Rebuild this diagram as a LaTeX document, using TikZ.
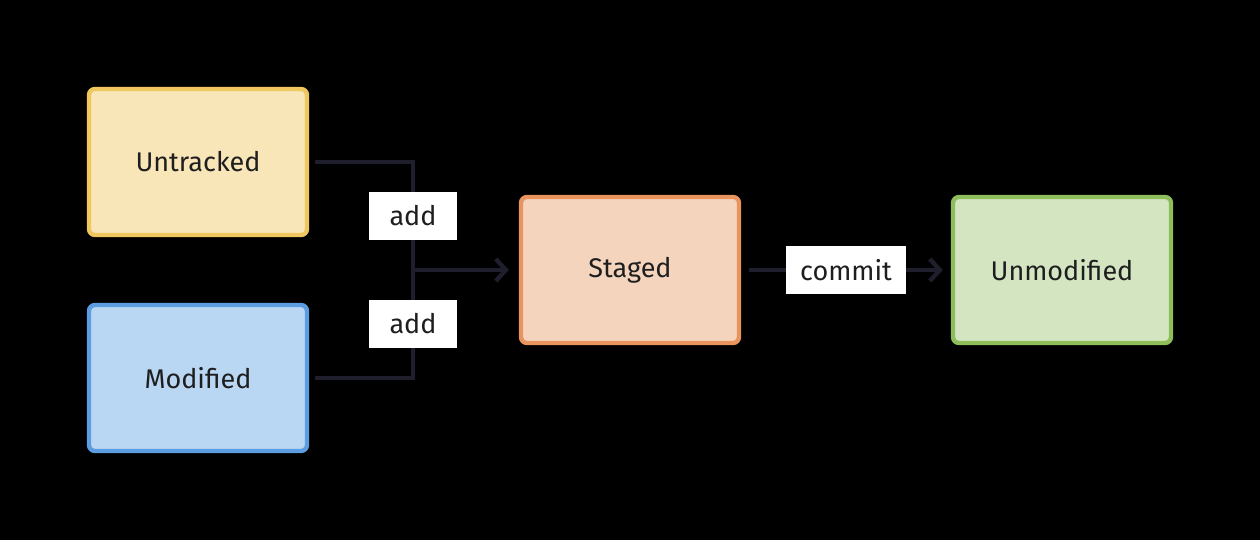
\documentclass[tikz,border=0pt]{standalone}
\usepackage{fontspec}
\setmainfont{Fira Sans}
\usetikzlibrary{arrows.meta}
\definecolor{linec}{HTML}{1E1E2C}
\definecolor{txt}{HTML}{1E1E1E}
\definecolor{yb}{HTML}{F0C75E}\definecolor{yf}{HTML}{F8E6B8}
\definecolor{bb}{HTML}{5C9CE0}\definecolor{bf}{HTML}{B9D6F3}
\definecolor{ob}{HTML}{E9935F}\definecolor{of}{HTML}{F5D4BE}
\definecolor{gb}{HTML}{8EBE5C}\definecolor{gf}{HTML}{D4E6C1}
\tikzset{
  statebox/.style={draw=#1, line width=2.2pt, rounded corners=3pt, minimum width=109pt, minimum height=73pt,
    font=\fontsize{13.5}{16}\selectfont, text=txt},
  conn/.style={draw=linec, line width=2.2pt},
  arr/.style={-{Straight Barb[length=5pt,width=11pt,line width=2.2pt]}},
  lbl/.style={fill=white, text=txt, inner xsep=7pt, minimum width=44pt, minimum height=24pt, font=\fontsize{13.5}{16}\selectfont}
}
\begin{document}
\begin{tikzpicture}[x=0.5pt,y=-0.5pt]
\fill[black] (0,0) rectangle (1260,540);
\useasboundingbox (0,0) rectangle (1260,540);
\node[statebox=yb, fill=yf] (u) at (198,162) {Untracked};
\node[statebox=bb, fill=bf] (m) at (198,378) {Modified};
\node[statebox=ob, fill=of] (s) at (630,270) {Staged};
\node[statebox=gb, fill=gf] (n) at (1062,270) {Unmodified};
\coordinate (j) at (413,270);
\draw[conn, shorten <=3pt] (u.east) -| (j) node[lbl, pos=0.75] {add};
\draw[conn, shorten <=3pt] (m.east) -| (j) node[lbl, pos=0.75] {add};
\draw[conn, arr, shorten >=5pt] (j) -- (s.west);
\draw[conn, arr, shorten <=4pt, shorten >=4pt] (s.east) -- node[lbl] {commit} (n.west);
\end{tikzpicture}
\end{document}
